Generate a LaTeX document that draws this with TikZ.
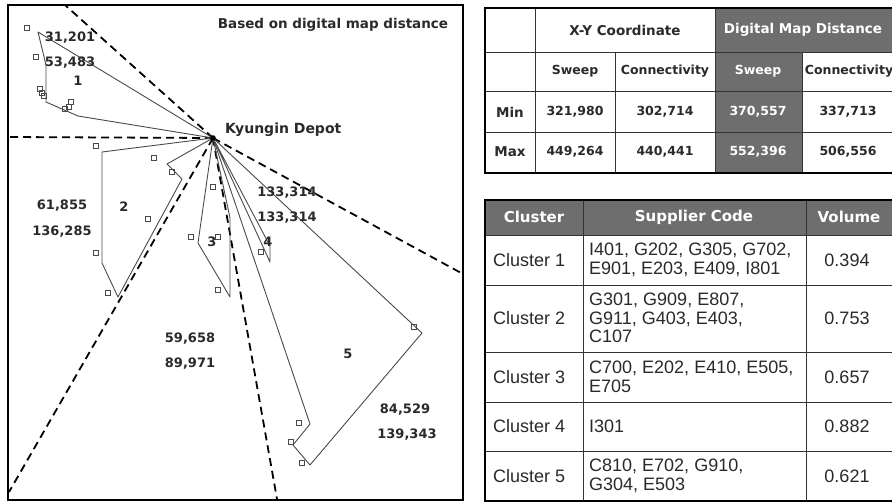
\documentclass[tikz,border=0pt]{standalone}
\usepackage{fontspec}
\setmainfont{Liberation Sans}
\newfontfamily\labfont{DejaVu Sans}
\definecolor{cellgray}{HTML}{6E6E6E}
\definecolor{routegray}{HTML}{4A4A4A}
\definecolor{txt}{HTML}{2A2A2A}
\tikzset{
  route/.style={draw=routegray, line width=0.9pt, line join=round},
  sweepline/.style={line width=1.8pt, dash pattern=on 8pt off 5pt},
  cust/.style={draw=routegray, line width=0.9pt, rectangle, minimum size=4.5pt, inner sep=0pt},
  num/.style={font=\labfont\bfseries\fontsize{13}{15}\selectfont, text=txt, inner sep=0pt},
  tcell/.style={font=\labfont\bfseries\fontsize{12.5}{14}\selectfont, text=txt, inner sep=0pt},
  thead/.style={font=\labfont\bfseries\fontsize{15}{17}\selectfont, text=white, inner sep=0pt},
  body/.style={font=\fontsize{18}{18.5}\selectfont, text=txt, inner sep=0pt, align=left}
}
\begin{document}
\begin{tikzpicture}[x=1pt,y=-1pt]
\useasboundingbox (0,0) rectangle (892,503);
\fill[white] (0,0) rectangle (892,503);

% map panel
\draw[line width=2.2pt] (8,5) rectangle (463,500);
\node[font=\labfont\bfseries\fontsize{13.5}{16}\selectfont, text=txt] (title) at (333,25) {Based on digital map distance};

\coordinate (depot) at (213,138);
\coordinate (s1) at (65,5);
\coordinate (s2) at (8,137);
\coordinate (s3) at (9,492);
\coordinate (s4) at (277,499);
\coordinate (s5) at (463,274);
\foreach \s in {s1,s2,s3,s4,s5} \draw[sweepline] (depot) -- (\s);

\draw[route] (depot) -- (38,32) -- (46,65) -- (46,102) -- (78,116) -- cycle;
\draw[route] (depot) -- (167,164) -- (182,179) -- (118,297) -- (102,263) -- (102,152) -- cycle;
\draw[route] (depot) -- (198,243) -- (230,297) -- (230,218) -- cycle;
\draw[route] (depot) -- (270,262) -- (270,246) -- cycle;
\draw[route] (depot) -- (422,333) -- (310,465) -- (293,445) -- (310,424) -- cycle;

\foreach \x/\y [count=\i] in {27/28,36/57,40/89,42/93,44/96,71/102,69/107,65/109,
  96/146,154/158,172/172,148/219,96/253,108/293,
  213/187,191/237,218/237,218/290,261/252,
  414/327,299/423,291/442,302/463}
  \node[cust] (c\i) at (\x,\y) {};

\fill (depot) circle (2.8pt);
\node[font=\labfont\bfseries\fontsize{14}{16}\selectfont, text=txt, anchor=west, inner sep=0pt] (depotlab) at (225,130) {Kyungin Depot};

\node[num] (d1) at (70,38) {31,201};
\node[num] (v1) at (70,63) {53,483};
\node[num] (k1) at (78,81) {1};
\node[num] (d2) at (62,206) {61,855};
\node[num] (v2) at (62,232) {136,285};
\node[num] (k2) at (124,207) {2};
\node[num] (k3) at (212,242) {3};
\node[num] (k4) at (268,242) {4};
\node[num] (d4) at (287,193) {133,314};
\node[num] (v4) at (287,218) {133,314};
\node[num] (d3) at (190,339) {59,658};
\node[num] (v3) at (190,364) {89,971};
\node[num] (k5) at (348,354) {5};
\node[num] (d5) at (405,410) {84,529};
\node[num] (v5) at (407,435) {139,343};

% comparison table
\fill[cellgray] (715,8) rectangle (893,52);
\fill[cellgray] (715,52) rectangle (802,173);
\foreach \y in {52,91,132} \draw[line width=0.8pt, black!80] (485,\y) -- (893,\y);
\draw[line width=0.8pt, black!80] (535,8) -- (535,173) (715,8) -- (715,173)
  (615,52) -- (615,173) (802,52) -- (802,173);
\draw[line width=2pt] (485,8) rectangle (894,173);

\node[tcell, font=\labfont\bfseries\fontsize{13.5}{15}\selectfont] (xyhead) at (625,30) {X-Y Coordinate};
\node[tcell, font=\labfont\bfseries\fontsize{13.5}{15}\selectfont, text=white] (dmhead) at (803,30) {Digital Map Distance};
\node[tcell] (sw1) at (575,71) {Sweep};
\node[tcell] (co1) at (665,71) {Connectivity};
\node[tcell, text=white] (sw2) at (758,71) {Sweep};
\node[tcell] (co2) at (849,71) {Connectivity};
\node[tcell, font=\labfont\bfseries\fontsize{13.5}{15}\selectfont] (minlab) at (510,112) {Min};
\node[tcell] (min1) at (575,112) {321,980};
\node[tcell] (min2) at (665,112) {302,714};
\node[tcell, text=white] (min3) at (758,112) {370,557};
\node[tcell] (min4) at (848,112) {337,713};
\node[tcell, font=\labfont\bfseries\fontsize{13.5}{15}\selectfont] (maxlab) at (510,152) {Max};
\node[tcell] (max1) at (575,152) {449,264};
\node[tcell] (max2) at (665,152) {440,441};
\node[tcell, text=white] (max3) at (758,152) {552,396};
\node[tcell] (max4) at (848,152) {506,556};

% cluster table
\fill[cellgray] (485,200) rectangle (893,235);
\foreach \y in {235,285,352,402,451} \draw[line width=0.8pt, black!80] (485,\y) -- (893,\y);
\draw[line width=0.8pt, black!80] (583,200) -- (583,501) (806,200) -- (806,501);
\draw[line width=2pt] (485,200) rectangle (894,501);

\node[thead] (hclu) at (534,217) {Cluster};
\node[thead] (hsup) at (694,217) {Supplier Code};
\node[thead] (hvol) at (849,217) {Volume};

\foreach \y/\k/\codes/\vol in {
  260/1/{I401, G202, G305, G702,\\E901, E203, E409, I801}/0.394,
  318/2/{G301, G909, E807,\\G911, G403, E403,\\C107}/0.753,
  377/3/{C700, E202, E410, E505,\\E705}/0.657,
  426/4/{I301}/0.882,
  476/5/{C810, E702, G910,\\G304, E503}/0.621}
{
  \node[body, anchor=west] (clu\k) at (493,\y) {Cluster \k};
  \node[body, anchor=west] (sup\k) at (589,\y) {\codes};
  \node[body] (vol\k) at (847,\y) {\vol};
}
\end{tikzpicture}
\end{document}
